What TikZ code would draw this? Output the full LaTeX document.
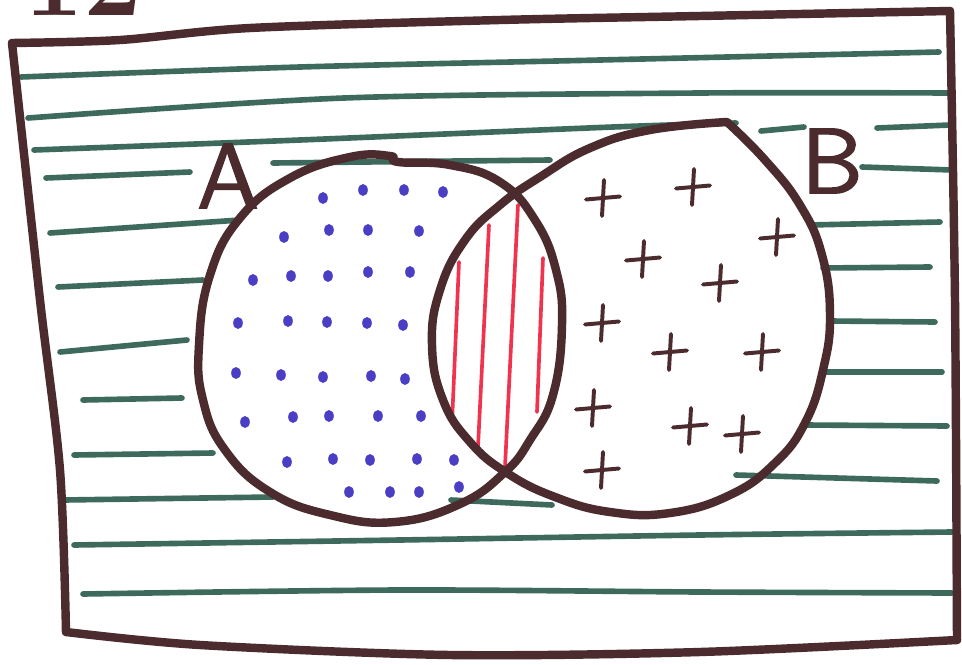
\documentclass[tikz,border=0pt]{standalone}
\usepackage{fontspec}
\newfontfamily\handfont{lmsans10-regular.otf}[FakeBold=1.6]
\definecolor{cOutline}{HTML}{4B2B2D}
\definecolor{cRule}{HTML}{3E6A5D}
\definecolor{cDot}{HTML}{4A3EC4}
\definecolor{cHatch}{HTML}{F0334F}
\tikzset{
  outline/.style={draw=cOutline,line width=6pt,line cap=round,line join=round},
  rule/.style={draw=cRule,line width=4pt,line cap=round},
  hatch/.style={draw=cHatch,line width=2.6pt,line cap=round},
  plusmark/.style={draw=cOutline,line width=2.8pt,line cap=round},
  setlabel/.style={text=cOutline,inner sep=0pt,font=\handfont\fontsize{66}{66}\selectfont}
}

\begin{document}
\begin{tikzpicture}[x=0.025cm,y=-0.025cm]
  \useasboundingbox (0,0) rectangle (962,665);
  \fill[white] (0,0) rectangle (962,665);

  \draw[rule] plot[smooth] coordinates {(21,77) (300,67) (600,60) (939,52)};
  \draw[rule] plot[smooth] coordinates {(28,118) (344,98) (700,93) (950,93)};
  \draw[rule] plot[smooth] coordinates {(34,150) (300,140) (613,127) (736,123)};
  \draw[rule] plot[smooth] coordinates {(74,545) (400,540) (700,535) (952,532)};
  \draw[rule] plot[smooth] coordinates {(83,594) (400,590) (700,592) (952,593)};
  \foreach \xa/\ya/\xb/\yb in {761/131/804/127, 877/128/950/125, 46/178/190/172,
      273/163/550/160, 862/167/952/170, 50/233/240/220, 810/225/940/222,
      58/287/203/280, 823/268/930/267, 60/352/187/340, 830/321/935/322,
      83/400/182/398, 822/372/942/372, 74/455/213/453, 805/425/947/426,
      736/475/937/481, 64/500/273/497, 451/500/552/505}
    \draw[rule] (\xa,\ya) -- (\xb,\yb);

  \draw[hatch] (459,262) -- (452,423);
  \draw[hatch] (489,225) -- (478,447);
  \draw[hatch] (518,205) -- (505,467);
  \draw[hatch] (543,258) -- (537,412);

  \foreach \x/\y in {323/198, 363/190, 404/190, 443/192,
      284/237, 329/230, 368/230, 419/231,
      253/280, 291/276, 328/276, 368/272, 410/272,
      238/323, 288/321, 327/322, 367/323, 403/325,
      236/373, 281/375, 323/377, 371/376, 405/379,
      245/422, 293/417, 329/416, 378/416, 421/416,
      287/462, 333/459, 370/460, 417/459, 454/460,
      349/492, 390/492, 419/492, 459/487}
    \fill[cDot] (\x,\y) ellipse [x radius=0.12cm, y radius=0.15cm];

  \foreach \x/\y in {603/198, 693/187, 643/259, 777/237, 720/283, 602/323,
      670/352, 762/352, 593/408, 690/426, 742/434, 602/470}
    \draw[plusmark] (\x-17,\y+1.5) -- (\x+17,\y-1.5) (\x+1,\y-18) -- (\x-1,\y+18);

  \draw[outline] plot[smooth cycle, tension=0.75] coordinates {(199,345) (210,275)
      (240,218) (290,178) (350,157) (390,156) (398,162) (450,165) (500,182)
      (535,220) (556,270) (562,325) (553,395) (530,440) (505,472) (460,504)
      (395,522) (330,515) (270,492) (225,450) (203,400)};
  \draw[outline] plot[smooth, tension=0.75] coordinates {(727,122) (765,160)
      (800,205) (822,255) (830,315) (823,370) (805,423) (775,463) (730,495)
      (670,513) (610,512) (555,497) (507,473) (470,442) (443,400) (432,345)
      (440,290) (465,240) (500,205) (540,177) (590,148) (650,130) (727,122)};

  \draw[outline] plot[smooth] coordinates {(12,43) (120,40) (250,28) (500,20) (700,16) (950,11)};
  \draw[outline] plot[smooth] coordinates {(950,11) (955,300) (957,640)};
  \draw[outline] plot[smooth] coordinates {(957,640) (700,652) (450,655) (200,645) (66,632)};
  \draw[outline] plot[smooth] coordinates {(66,632) (60,470) (40,300) (12,43)};

  \node[setlabel] (setA) at (228,176) {A};
  \node[setlabel] (setB) at (832,161) {B};
  \node[anchor=base west,inner sep=0pt,text=cOutline,
        font=\bfseries\fontsize{75}{75}\selectfont] (figNum) at (24,15) {12};
\end{tikzpicture}
\end{document}
